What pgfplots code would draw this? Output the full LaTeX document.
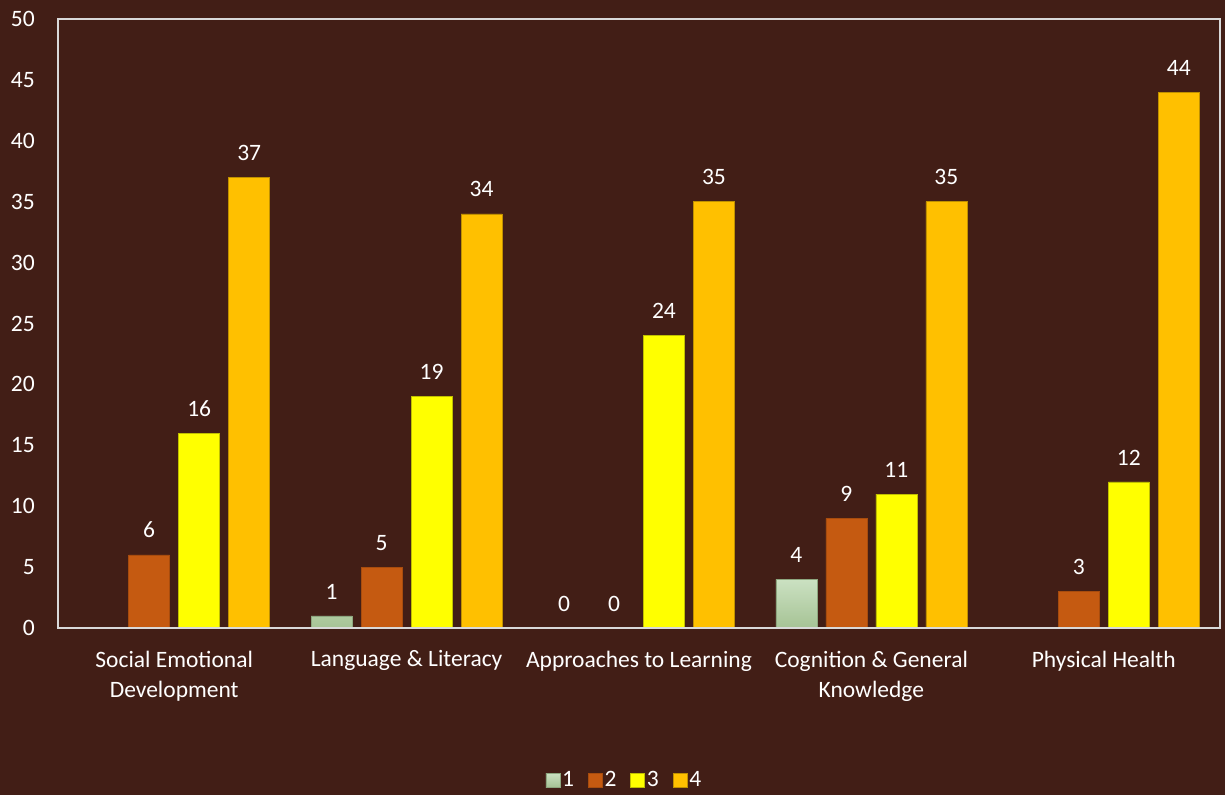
\documentclass[border=0pt]{standalone}
\usepackage{fontspec}
\setmainfont{Carlito}
\usepackage{pgfplots}
\pgfplotsset{compat=1.18}
\definecolor{bg}{RGB}{66,30,22}
\definecolor{axl}{RGB}{217,217,217}
\definecolor{cA}{RGB}{197,90,17}
\definecolor{cY}{RGB}{255,255,0}
\definecolor{cG}{RGB}{255,192,0}
\definecolor{gTop}{RGB}{203,225,194}
\definecolor{gBot}{RGB}{166,195,149}
\begin{document}
\begin{tikzpicture}
\fill[bg] (0,0) rectangle (1225bp,795bp);
\begin{axis}[
  at={(58bp,167bp)}, anchor=south west,
  scale only axis, width=1162bp, height=609bp,
  xmin=-0.5, xmax=4.5, ymin=0, ymax=50,
  ybar=9bp, bar width=41bp,
  xtick={0,1,2,3,4},
  xticklabels={{Social Emotional\\Development},{Language \& Literacy},{Approaches to Learning},{Cognition \& General\\Knowledge},{Physical Health}},
  ytick={0,5,...,50},
  major tick length=0pt,
  axis line style={draw=axl, line width=1.4bp},
  /pgf/number format/assume math mode=true,
  tick label style={font=\fontsize{23.5bp}{30bp}\selectfont, text=white},
  xticklabel style={align=center, anchor=north, inner sep=0pt, yshift=-22.5bp},
  yticklabel style={anchor=east, inner sep=0pt, xshift=-23bp},
  nodes near coords,
  every node near coord/.append style={font=\fontsize{23.5bp}{30bp}\selectfont, text=white, anchor=south, inner sep=0pt, yshift=16.5bp},
  legend style={at={(0.4875,-0.2496)}, anchor=center, legend columns=4, draw=none, fill=none,
    font=\fontsize{23.5bp}{30bp}\selectfont, text=white,
    /tikz/every even column/.append style={column sep=12bp}},
  legend image code/.code={\path[#1] (-3bp,-7bp) rectangle (11bp,7bp);},
]
\addplot[draw=gBot!85!black, line width=0.5bp, top color=gTop, bottom color=gBot] coordinates {(1,1) (2,0) (3,4)};
\addplot[draw=cA!85!black, line width=0.5bp, fill=cA] coordinates {(0,6) (1,5) (2,0) (3,9) (4,3)};
\addplot[draw=cY!75!black, line width=0.5bp, fill=cY] coordinates {(0,16) (1,19) (2,24) (3,11) (4,12)};
\addplot[draw=cG!75!black, line width=0.5bp, fill=cG] coordinates {(0,37) (1,34) (2,35) (3,35) (4,44)};
\legend{1,2,3,4}
\draw[axl, line width=2.5bp] (rel axis cs:0,0) -- (rel axis cs:1,0);
\end{axis}
\end{tikzpicture}
\end{document}
